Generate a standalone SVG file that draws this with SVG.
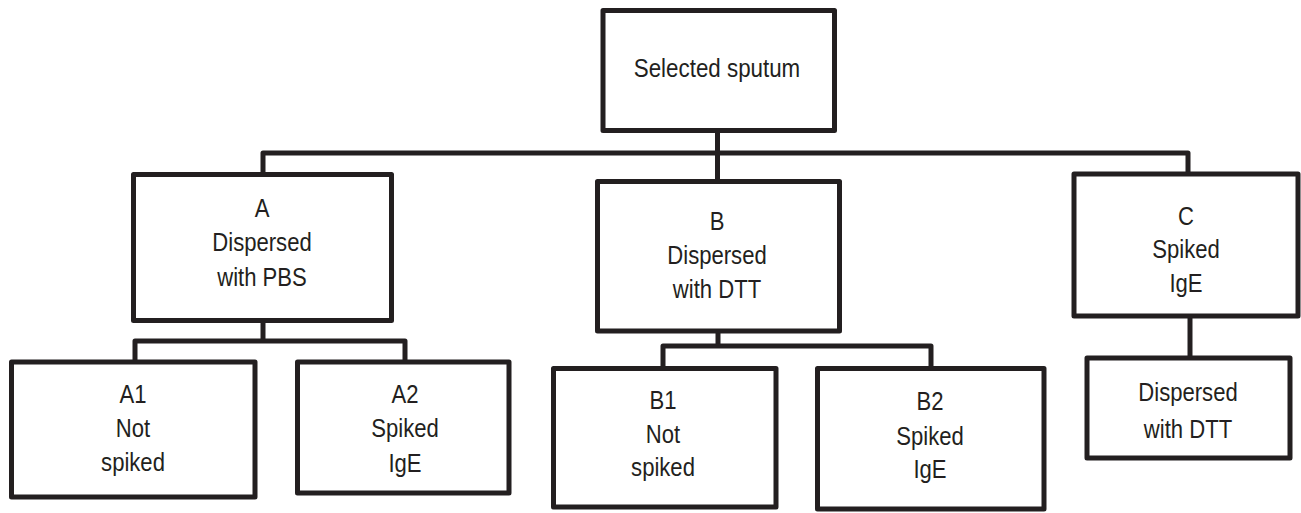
<svg xmlns="http://www.w3.org/2000/svg" width="1301" height="513" viewBox="0 0 1301 513">
  <style>
    .box { fill: #ffffff; stroke: #231f20; stroke-width: 5; stroke-linejoin: round; }
    .conn { fill: none; stroke: #231f20; stroke-width: 5; stroke-linejoin: round; stroke-linecap: butt; }
    .lbl { font-family: "Liberation Sans", Arial, sans-serif; font-size: 26px; fill: #231f20; text-anchor: middle; }
  </style>
  <rect width="1301" height="513" fill="#ffffff"/>

  <g id="connectors">
    <path class="conn" d="M717.5,130.5 V181.5"/>
    <path class="conn" d="M263,174.5 V153 H1188 V174"/>
    <path class="conn" d="M263,320.5 V341"/>
    <path class="conn" d="M135,362 V341 H405 V362"/>
    <path class="conn" d="M718,331 V346"/>
    <path class="conn" d="M663,368.5 V346 H931 V368.5"/>
    <path class="conn" d="M1190,316 V358"/>
  </g>

  <g id="node-top">
    <rect class="box" x="603" y="10.5" width="231.5" height="120"/>
    <g transform="translate(717,0) scale(0.86,1)">
      <text class="lbl" x="0" y="77">Selected sputum</text>
    </g>
  </g>

  <g id="node-A">
    <rect class="box" x="133.5" y="174.5" width="258" height="146"/>
    <g transform="translate(262,0) scale(0.85,1)">
      <text class="lbl" x="0" y="217">A</text>
      <text class="lbl" x="0" y="251">Dispersed</text>
      <text class="lbl" x="0" y="286">with PBS</text>
    </g>
  </g>

  <g id="node-B">
    <rect class="box" x="597.5" y="181.5" width="242" height="149.5"/>
    <g transform="translate(717,0) scale(0.85,1)">
      <text class="lbl" x="0" y="230">B</text>
      <text class="lbl" x="0" y="264">Dispersed</text>
      <text class="lbl" x="0" y="298">with DTT</text>
    </g>
  </g>

  <g id="node-C">
    <rect class="box" x="1074" y="174" width="224" height="142"/>
    <g transform="translate(1186,0) scale(0.85,1)">
      <text class="lbl" x="0" y="225">C</text>
      <text class="lbl" x="0" y="258">Spiked</text>
      <text class="lbl" x="0" y="292">IgE</text>
    </g>
  </g>

  <g id="node-A1">
    <rect class="box" x="11.5" y="362" width="243.5" height="135"/>
    <g transform="translate(133,0) scale(0.85,1)">
      <text class="lbl" x="0" y="403">A1</text>
      <text class="lbl" x="0" y="437">Not</text>
      <text class="lbl" x="0" y="471">spiked</text>
    </g>
  </g>

  <g id="node-A2">
    <rect class="box" x="297.5" y="362" width="211.5" height="131"/>
    <g transform="translate(405,0) scale(0.85,1)">
      <text class="lbl" x="0" y="403">A2</text>
      <text class="lbl" x="0" y="437">Spiked</text>
      <text class="lbl" x="0" y="472">IgE</text>
    </g>
  </g>

  <g id="node-B1">
    <rect class="box" x="553.5" y="368.5" width="222.5" height="138.5"/>
    <g transform="translate(663,0) scale(0.85,1)">
      <text class="lbl" x="0" y="409">B1</text>
      <text class="lbl" x="0" y="443">Not</text>
      <text class="lbl" x="0" y="476">spiked</text>
    </g>
  </g>

  <g id="node-B2">
    <rect class="box" x="817.5" y="368.5" width="226.5" height="140.5"/>
    <g transform="translate(930,0) scale(0.85,1)">
      <text class="lbl" x="0" y="410">B2</text>
      <text class="lbl" x="0" y="445">Spiked</text>
      <text class="lbl" x="0" y="478">IgE</text>
    </g>
  </g>

  <g id="node-C1">
    <rect class="box" x="1087" y="358" width="203" height="100"/>
    <g transform="translate(1188,0) scale(0.85,1)">
      <text class="lbl" x="0" y="401">Dispersed</text>
      <text class="lbl" x="0" y="438">with DTT</text>
    </g>
  </g>
</svg>
